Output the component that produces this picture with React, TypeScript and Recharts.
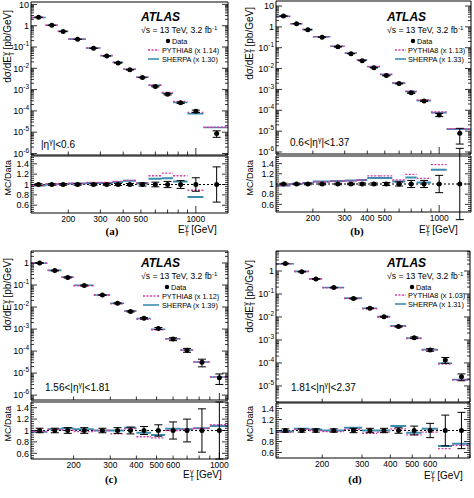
import React from "react";
import { ComposedChart, Line, Scatter, XAxis, YAxis, ErrorBar, ReferenceLine } from "recharts";

// E_T bin edges [GeV] and the points' x positions
const edges = [125, 150, 175, 200, 250, 300, 350, 400, 470, 550, 650, 750, 900, 1100, 1500];
const centers = [137.5, 162.5, 187.5, 225, 275, 325, 375, 435, 510, 600, 700, 825, 1000, 1300];

// (a) |eta| < 0.6
const dataA = [2.5, 1.05, 0.54, 0.23, 0.087, 0.038, 0.018, 0.0085, 0.0037, 0.0014, 6.0e-4, 2.4e-4, 9.6e-5, 8.7e-6];
const errA = [0.015, 0.015, 0.015, 0.015, 0.015, 0.015, 0.02, 0.02, 0.03, 0.045, 0.06, 0.075, 0.13, 0.34];
const pyA = [2.45, 1.06, 0.545, 0.235, 0.09, 0.04, 0.019, 0.0092, 0.0038, 0.0016, 7.3e-4, 2.8e-4, 8.5e-5, 1.7e-5];
const shA = [2.45, 1.05, 0.545, 0.235, 0.09, 0.039, 0.019, 0.0091, 0.0038, 0.0016, 6.7e-4, 2.5e-4, 7.3e-5, 1.65e-5];
const pyRatioA = [0.98, 1.01, 1.01, 1.02, 1.04, 1.04, 1.06, 1.08, 1.03, 1.17, 1.22, 1.17, 0.89, 1.95];
const shRatioA = [0.98, 1.0, 1.01, 1.02, 1.03, 1.03, 1.05, 1.07, 1.02, 1.11, 1.12, 1.06, 0.76, 1.9];

// (b) 0.6 < |eta| < 1.37
const dataB = [3.3, 1.42, 0.73, 0.32, 0.11, 0.052, 0.024, 0.011, 0.0046, 0.0019, 6.9e-4, 2.8e-4, 6.0e-5, 8.0e-6];
const errB = [0.015, 0.015, 0.015, 0.015, 0.015, 0.015, 0.02, 0.02, 0.03, 0.04, 0.07, 0.07, 0.17, 0.7];
const pyB = [3.2, 1.42, 0.745, 0.333, 0.117, 0.055, 0.026, 0.0128, 0.0053, 0.0021, 8.2e-4, 3.1e-4, 8.2e-5, 1.3e-5];
const shB = [3.2, 1.42, 0.745, 0.336, 0.117, 0.056, 0.026, 0.0123, 0.0052, 0.002, 7.8e-4, 2.9e-4, 7.7e-5, 1.25e-5];
const pyRatioB = [0.97, 1.0, 1.02, 1.04, 1.06, 1.06, 1.08, 1.16, 1.16, 1.08, 1.19, 1.11, 1.38, 1.62];
const shRatioB = [0.97, 1.0, 1.02, 1.05, 1.06, 1.07, 1.08, 1.12, 1.12, 1.05, 1.13, 1.03, 1.28, 1.58];

// (c) 1.56 < |eta| < 1.81
const dataC = [1.0, 0.45, 0.22, 0.095, 0.035, 0.0148, 0.0063, 0.0031, 0.00107, 3.5e-4, 1.1e-4, 3.1e-5, 6.1e-6];
const errC = [0.04, 0.04, 0.05, 0.05, 0.04, 0.05, 0.06, 0.07, 0.1, 0.15, 0.2, 0.38, 0.5];
const pyC = [0.98, 0.46, 0.222, 0.093, 0.035, 0.0139, 0.0065, 0.00276, 9.3e-4, 3.5e-4, 1.12e-4, 3.2e-5, 6.7e-6];
const shC = [0.98, 0.46, 0.229, 0.097, 0.035, 0.0148, 0.0066, 0.003, 9.8e-4, 3.6e-4, 1.12e-4, 3.2e-5, 6.6e-6];
const pyRatioC = [0.98, 1.02, 1.01, 0.98, 1.0, 0.94, 1.03, 0.89, 0.87, 1.0, 1.02, 1.04, 1.1];
const shRatioC = [0.98, 1.02, 1.04, 1.02, 1.0, 1.0, 1.05, 0.96, 0.92, 1.03, 1.02, 1.04, 1.08];

// (d) 1.81 < |eta| < 2.37
const dataD = [2.1, 0.93, 0.45, 0.19, 0.063, 0.024, 0.0103, 0.0038, 0.00126, 3.7e-4, 1.35e-4, 2.5e-5];
const errD = [0.03, 0.03, 0.03, 0.03, 0.04, 0.04, 0.04, 0.05, 0.08, 0.13, 0.28, 0.33];
const pyD = [2.04, 0.95, 0.45, 0.186, 0.064, 0.0228, 0.01, 0.0039, 0.00116, 3.6e-4, 9.0e-5, 1.8e-5];
const shD = [2.06, 0.96, 0.46, 0.19, 0.066, 0.024, 0.0103, 0.0041, 0.00121, 3.8e-4, 9.7e-5, 1.9e-5];
const pyRatioD = [0.97, 1.02, 1.0, 0.98, 1.02, 0.95, 0.97, 1.03, 0.92, 0.97, 0.67, 0.73];
const shRatioD = [0.98, 1.03, 1.02, 1.0, 1.05, 1.0, 1.0, 1.08, 0.96, 1.03, 0.72, 0.76];

// tick labels
const xLabelsAB = [200, 300, 400, 500, 1000];
const xLabelsC = [200, 300, 400, 500, 600, 1000];
const xLabelsD = [200, 300, 400, 500, 600];
const xTickValues = [200, 300, 400, 500, 600, 700, 800, 900, 1000];

const PY = "#d63ca5";
const SH = "#3b8db0";
const FONT = "'Liberation Sans', Arial, sans-serif";

const isDecade = (v: number) => Math.abs(Math.log10(v) - Math.round(Math.log10(v))) < 1e-6;
const isFifth = (v: number) => Math.abs(v * 5 - Math.round(v * 5)) < 1e-6;

function logTicks(lo: number, hi: number) {
  const t: number[] = [];
  for (let e = -7; e <= 2; e++)
    for (let m = 1; m <= 9; m++) {
      const v = +(m * Math.pow(10, e)).toPrecision(2);
      if (v >= lo && v <= hi) t.push(v);
    }
  return t;
}

function ratioTicks(lo: number, hi: number) {
  const t: number[] = [];
  for (let k = -15; k <= 15; k++) {
    const v = +(1 + k * 0.04).toFixed(2);
    if (v >= lo && v <= hi) t.push(v);
  }
  return t;
}

function steps(vals: number[]) {
  const out: { x: number; y: number | null }[] = [];
  vals.forEach((v, i) => {
    out.push({ x: edges[i], y: v });
    out.push({ x: edges[i + 1], y: v });
    out.push({ x: edges[i + 1], y: null });
  });
  return out;
}

const tl = (x1: number, y1: number, x2: number, y2: number) => (
  <line x1={x1} y1={y1} x2={x2} y2={y2} stroke="#000" strokeWidth={0.8} />
);

function LogLabel({ x, y, v }: { x: number; y: number; v: number }) {
  const e = Math.round(Math.log10(v));
  if (e === 0 || e === 1)
    return (
      <text x={x} y={y} textAnchor="end" fontSize={9} fontFamily={FONT}>
        {e === 0 ? "1" : "10"}
      </text>
    );
  return (
    <text x={x} y={y} textAnchor="end" fontSize={9} fontFamily={FONT}>
      10
      <tspan dy={-4} fontSize={6.5}>
        {e}
      </tspan>
    </text>
  );
}

const LeftLog = (p: any) => {
  const v = p.payload.value;
  const maj = isDecade(v);
  return (
    <g>
      {tl(p.x, p.y, p.x + (maj ? 6 : 3), p.y)}
      {maj && <LogLabel x={p.x - 2} y={p.y + 3.2} v={v} />}
    </g>
  );
};
const RightLog = (p: any) => {
  const maj = isDecade(p.payload.value);
  return <g>{tl(p.x, p.y, p.x - (maj ? 6 : 3), p.y)}</g>;
};
const LeftRatio = (p: any) => {
  const v = p.payload.value;
  const maj = isFifth(v);
  return (
    <g>
      {tl(p.x, p.y, p.x + (maj ? 6 : 3), p.y)}
      {maj && (
        <text x={p.x - 2} y={p.y + 3.2} textAnchor="end" fontSize={9} fontFamily={FONT}>
          {v === 1 ? "1" : v.toFixed(1)}
        </text>
      )}
    </g>
  );
};
const RightRatio = (p: any) => {
  const maj = isFifth(p.payload.value);
  return <g>{tl(p.x, p.y, p.x - (maj ? 6 : 3), p.y)}</g>;
};
const bottomX = (labels: number[]) => (p: any) => {
  const v = p.payload.value;
  const len = v === 1000 ? 7 : 3.5;
  return (
    <g>
      {tl(p.x, p.y, p.x, p.y - len)}
      {labels.includes(v) && (
        <text x={p.x} y={p.y + 8.5} textAnchor="middle" fontSize={8.5} fontFamily={FONT}>
          {v}
        </text>
      )}
    </g>
  );
};
const TopX = (p: any) => {
  const len = p.payload.value === 1000 ? 7 : 3.5;
  return <g>{tl(p.x, p.y, p.x, p.y + len)}</g>;
};

const Dot = (p: any) => <circle cx={p.cx} cy={p.cy} r={2.5} fill="#000" />;

type Geo = {
  left: number; plotL: number; plotR: number;
  mainT: number; mainB: number; ratT: number; ratB: number;
  xDom: [number, number]; yDom: [number, number]; rDom: [number, number];
  xLabels: number[];
};

type Series = {
  data: number[]; err: number[]; py: number[]; sh: number[]; pyR: number[]; shR: number[];
};

function Panel({ g, s }: { g: Geo; s: Series }) {
  const W = 237;
  const lw = g.plotL - g.left;
  const rw = g.left + W - g.plotR;
  const xt = xTickValues.filter((v) => v >= g.xDom[0] && v <= g.xDom[1]);
  const yt = logTicks(g.yDom[0], g.yDom[1]);
  const rt = ratioTicks(g.rDom[0], g.rDom[1]);
  const top = s.data.map((v, i) => ({ x: centers[i], y: v, err: [v * s.err[i], v * s.err[i]] }));
  const rat = s.err.map((e, i) => ({ x: centers[i], y: 1, err: e }));
  const ax = { stroke: "#000", strokeWidth: 1 };
  const common = { tickLine: false, tickSize: 0, tickMargin: 0, interval: 0 as const, axisLine: ax, allowDataOverflow: true };
  const m = { top: 0, right: 0, bottom: 0, left: 0 };
  return (
    <>
      <div style={{ position: "absolute", left: g.left, top: g.mainT - 1 }}>
        <ComposedChart width={W} height={g.mainB - g.mainT + 2} margin={m}>
          <XAxis xAxisId="b" dataKey="x" type="number" scale="log" domain={g.xDom} ticks={xt} height={1} tick={bottomX([])} {...common} />
          <XAxis xAxisId="t" orientation="top" type="number" scale="log" domain={g.xDom} ticks={xt} height={1} tick={TopX} {...common} />
          <YAxis yAxisId="l" dataKey="y" type="number" scale="log" domain={g.yDom} ticks={yt} width={lw} tick={LeftLog} {...common} />
          <YAxis yAxisId="r" orientation="right" type="number" scale="log" domain={g.yDom} ticks={yt} width={rw} tick={RightLog} {...common} />
          <Line xAxisId="b" yAxisId="l" data={steps(s.sh)} dataKey="y" stroke={SH} strokeWidth={1.6} dot={false} activeDot={false} isAnimationActive={false} />
          <Line xAxisId="b" yAxisId="l" data={steps(s.py)} dataKey="y" stroke={PY} strokeWidth={1.4} strokeDasharray="2 1.5" dot={false} activeDot={false} isAnimationActive={false} />
          <Scatter xAxisId="b" yAxisId="l" data={top} dataKey="y" shape={Dot} isAnimationActive={false}>
            <ErrorBar dataKey="err" direction="y" width={4} stroke="#000" strokeWidth={1} />
          </Scatter>
        </ComposedChart>
      </div>
      <div style={{ position: "absolute", left: g.left, top: g.ratT - 1 }}>
        <ComposedChart width={W} height={g.ratB - g.ratT + 15} margin={m}>
          <XAxis xAxisId="b" dataKey="x" type="number" scale="log" domain={g.xDom} ticks={xt} height={14} tick={bottomX(g.xLabels)} {...common} />
          <XAxis xAxisId="t" orientation="top" type="number" scale="log" domain={g.xDom} ticks={xt} height={1} tick={TopX} {...common} />
          <YAxis yAxisId="l" dataKey="y" type="number" domain={g.rDom} ticks={rt} width={lw} tick={LeftRatio} {...common} />
          <YAxis yAxisId="r" orientation="right" type="number" domain={g.rDom} ticks={rt} width={rw} tick={RightRatio} {...common} />
          <ReferenceLine xAxisId="b" yAxisId="l" y={1} stroke="#000" strokeWidth={1} strokeDasharray="2 2" />
          <Line xAxisId="b" yAxisId="l" data={steps(s.shR)} dataKey="y" stroke={SH} strokeWidth={2} dot={false} activeDot={false} isAnimationActive={false} />
          <Line xAxisId="b" yAxisId="l" data={steps(s.pyR)} dataKey="y" stroke={PY} strokeWidth={1.4} strokeDasharray="2 1.5" dot={false} activeDot={false} isAnimationActive={false} />
          <Scatter xAxisId="b" yAxisId="l" data={rat} dataKey="y" shape={Dot} isAnimationActive={false}>
            <ErrorBar dataKey="err" direction="y" width={4} stroke="#000" strokeWidth={1} />
          </Scatter>
        </ComposedChart>
      </div>
    </>
  );
}

type Txt = {
  atlas: [number, number]; rows: [number, number, number];
  line: [number, number]; dotX: number; textX: number;
  py: string; sh: string;
  eta: [number, number]; etaPre: string; etaPost: string;
  yTitle: [number, number]; rTitle: [number, number];
  xTitle: [number, number]; letter: [number, number, string];
};

function Notes({ t }: { t: Txt }) {
  const [ax, ay] = t.atlas;
  return (
    <g fontFamily={FONT} fill="#000">
      <text x={ax} y={ay} fontSize={12} fontWeight="bold" fontStyle="italic">ATLAS</text>
      <text x={ax} y={ay + 12} fontSize={8.6}>
        √s = 13 TeV, 3.2 fb<tspan dy={-3.5} fontSize={6}>-1</tspan>
      </text>
      <circle cx={t.dotX} cy={t.rows[0]} r={2.2} fill="#000" />
      <text x={t.dotX + 4} y={t.rows[0] + 2.7} fontSize={7.3}>Data</text>
      <line x1={t.line[0]} x2={t.line[1]} y1={t.rows[1]} y2={t.rows[1]} stroke={PY} strokeWidth={1.4} strokeDasharray="2 1.5" />
      <text x={t.textX} y={t.rows[1] + 2.7} fontSize={7.3}>PYTHIA8 (x {t.py})</text>
      <line x1={t.line[0]} x2={t.line[1]} y1={t.rows[2]} y2={t.rows[2]} stroke={SH} strokeWidth={1.6} />
      <text x={t.textX} y={t.rows[2] + 2.7} fontSize={7.3}>SHERPA (x {t.sh})</text>
      <text x={t.eta[0]} y={t.eta[1]} fontSize={10}>
        {t.etaPre}|η<tspan dy={-4} fontSize={7}>γ</tspan>
        <tspan dy={4}>|&lt;{t.etaPost}</tspan>
      </text>
      <text transform={`translate(${t.yTitle[0]},${t.yTitle[1]}) rotate(-90)`} textAnchor="end" fontSize={10}>
        dσ/dE<tspan dy={2.5} fontSize={7}>T</tspan>
        <tspan dx={-4} dy={-7} fontSize={7}>γ</tspan>
        <tspan dy={4.5}> [pb/GeV]</tspan>
      </text>
      <text transform={`translate(${t.rTitle[0]},${t.rTitle[1]}) rotate(-90)`} textAnchor="end" fontSize={9}>
        MC/Data
      </text>
      <text x={t.xTitle[0]} y={t.xTitle[1]} fontSize={10}>
        E<tspan dy={2.5} fontSize={7}>T</tspan>
        <tspan dx={-4} dy={-7} fontSize={7}>γ</tspan>
        <tspan dy={4.5}> [GeV]</tspan>
      </text>
      <text x={t.letter[0]} y={t.letter[1]} textAnchor="middle" fontSize={11} fontWeight="bold" fontFamily="'Liberation Serif', 'DejaVu Serif', serif">
        {t.letter[2]}
      </text>
    </g>
  );
}

const geoA: Geo = { left: 0, plotL: 31, plotR: 228, mainT: 2, mainB: 155, ratT: 156, ratB: 213, xDom: [125, 1500], yDom: [8.5e-7, 13], rDom: [0.45, 1.55], xLabels: xLabelsAB };
const geoB: Geo = { left: 237, plotL: 276, plotR: 471, mainT: 1, mainB: 154, ratT: 156, ratB: 212, xDom: [125, 1500], yDom: [8e-7, 17.4], rDom: [0.45, 1.55], xLabels: xLabelsAB };
const geoC: Geo = { left: 0, plotL: 31, plotR: 228, mainT: 251, mainB: 400, ratT: 402, ratB: 459, xDom: [125, 1100], yDom: [6e-7, 3.5], rDom: [0.5, 1.5], xLabels: xLabelsC };
const geoD: Geo = { left: 237, plotL: 276, plotR: 470, mainT: 251, mainB: 402, ratT: 403, ratB: 458, xDom: [125, 900], yDom: [2e-6, 7.4], rDom: [0.5, 1.5], xLabels: xLabelsD };

const txtA: Txt = { atlas: [141, 21], rows: [41, 50, 59], line: [148, 159], dotX: 168, textX: 162, py: "1.14", sh: "1.30", eta: [41, 148], etaPre: "", etaPost: "0.6", yTitle: [11, 10], rTitle: [11, 160], xTitle: [178, 233], letter: [112, 235, "(a)"] };
const txtB: Txt = { atlas: [387, 21], rows: [41, 50, 59], line: [395, 406], dotX: 413, textX: 408, py: "1.13", sh: "1.33", eta: [290, 146], etaPre: "0.6<", etaPost: "1.37", yTitle: [252.5, 7], rTitle: [252.5, 160], xTitle: [419, 233], letter: [357, 235, "(b)"] };
const txtC: Txt = { atlas: [141, 267], rows: [287, 296, 305], line: [143, 159], dotX: 167, textX: 162, py: "1.12", sh: "1.39", eta: [45, 391], etaPre: "1.56<", etaPost: "1.81", yTitle: [11, 258], rTitle: [11, 406], xTitle: [183, 478], letter: [111, 483, "(c)"] };
const txtD: Txt = { atlas: [387, 267], rows: [287, 295, 304], line: [395, 406], dotX: 412, textX: 408, py: "1.03", sh: "1.31", eta: [291, 391], etaPre: "1.81<", etaPost: "2.37", yTitle: [252.5, 260], rTitle: [252.5, 406], xTitle: [424, 479], letter: [355, 483, "(d)"] };

export default function App() {
  return (
    <div style={{ position: "absolute", left: 0, top: 0, width: 474, height: 498, background: "#fff", overflow: "hidden", fontFamily: FONT }}>
      <style>{`.recharts-surface { overflow: visible; }`}</style>
      <Panel g={geoA} s={{ data: dataA, err: errA, py: pyA, sh: shA, pyR: pyRatioA, shR: shRatioA }} />
      <Panel g={geoB} s={{ data: dataB, err: errB, py: pyB, sh: shB, pyR: pyRatioB, shR: shRatioB }} />
      <Panel g={geoC} s={{ data: dataC, err: errC, py: pyC, sh: shC, pyR: pyRatioC, shR: shRatioC }} />
      <Panel g={geoD} s={{ data: dataD, err: errD, py: pyD, sh: shD, pyR: pyRatioD, shR: shRatioD }} />
      <svg width={474} height={498} style={{ position: "absolute", left: 0, top: 0, pointerEvents: "none" }}>
        <Notes t={txtA} />
        <Notes t={txtB} />
        <Notes t={txtC} />
        <Notes t={txtD} />
      </svg>
    </div>
  );
}
